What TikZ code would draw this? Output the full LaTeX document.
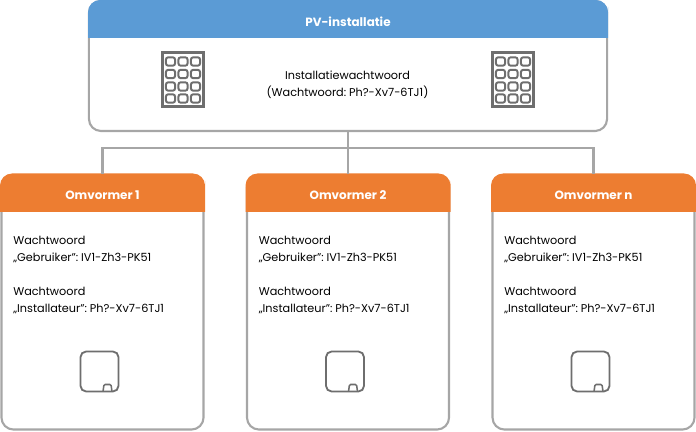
\documentclass[tikz,border=0pt]{standalone}
\usepackage{fontspec}
\setmainfont[WordSpace=0.6]{Poppins}
\newfontfamily\headfont{Poppins}
\usetikzlibrary{positioning,calc}
\definecolor{linegray}{HTML}{A6A6A6}
\definecolor{icongray}{HTML}{6E6E6E}
\definecolor{pvblue}{HTML}{5B9BD5}
\definecolor{convorange}{HTML}{ED7D31}
\tikzset{
  panel/.style={draw=linegray, line width=1.5pt, rounded corners=0.3cm, fill=white, inner sep=0pt},
  headtext/.style={text=white, font=\headfont\fontsize{8.5}{12}\selectfont\bfseries},
  bodytext/.style={align=left, inner sep=0pt, anchor=north west, font=\fontsize{8}{12.1}\selectfont},
  keypad/.pic={
    \draw[icongray, line width=1.5pt] (0,0) rectangle (41,54);
    \foreach \kx in {8,20.5,33}
      \foreach \ky in {9,21.5,34,46}
        \draw[icongray, line width=1.4pt, rounded corners=0.06cm] (\kx-4.6,\ky-4.2) rectangle (\kx+4.6,\ky+4.2);
  },
  inverter/.pic={
    \draw[icongray, line width=1.3pt, rounded corners=0.14cm] (0,0) rectangle (38,40);
    \draw[icongray, line width=1.1pt, rounded corners=0.03cm] (22.5,40) -- (23.5,33) -- (30.5,33) -- (31.5,40);
  }
}
\begin{document}
\begin{tikzpicture}[x=0.025cm, y=-0.025cm]
  \useasboundingbox (0,0) rectangle (696,432);
  % connectors go first, the panels sit on top of them
  \coordinate (trunk) at (348,148);
  \node[panel, minimum width=12.95cm, minimum height=3.25cm] (pv) at (348,66) {};
  \fill[pvblue] (88,38) [rounded corners=0.3cm] |- (348,0) -| (608,19) [sharp corners] -- (608,38) -- cycle;
  \node[headtext] (pvhead) at (348,22) {PV-installatie};
  \node[align=center, inner sep=0pt, font=\fontsize{8}{12.1}\selectfont] (pvpass) at (347.5,85) {Installatiewachtwoord\\(Wachtwoord: Ph?-Xv7-6TJ1)};
  \pic at (162.5,52.5) {keypad};
  \pic at (492.5,52.5) {keypad};
  \foreach \id/\xc/\lab in {1/102.5/1, 2/348/2, 3/593.5/n} {
    \node[panel, minimum width=5.05cm, minimum height=6.35cm] (conv\id) at (\xc,302.5) {};
    \fill[convorange] (\xc-102.5,212) [rounded corners=0.3cm] |- (\xc,173.5) -| (\xc+102.5,193) [sharp corners] -- (\xc+102.5,212) -- cycle;
    \node[headtext] (head\id) at (\xc,195) {Omvormer \lab};
    \node[bodytext] (user\id) at (\xc-89.5,235.5) {Wachtwoord\\„Gebruiker”: IV1-Zh3-PK51};
    \node[bodytext, below=0.6cm of user\id.south west, anchor=north west] (inst\id) {Wachtwoord\\„Installateur”: Ph?-Xv7-6TJ1};
    \pic at (\xc-22,351.5) {inverter};
  }
  \draw[linegray, line width=1.5pt] (pv.south) -- (conv2.north);
  \draw[linegray, line width=1.5pt] (trunk) -| (conv1.north);
  \draw[linegray, line width=1.5pt] (trunk) -| (conv3.north);
\end{tikzpicture}
\end{document}
